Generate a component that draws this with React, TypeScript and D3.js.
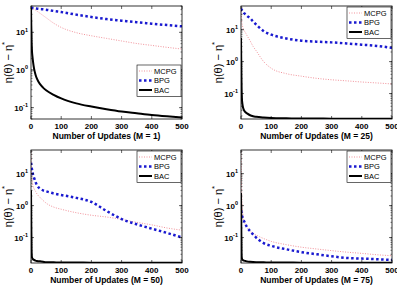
import * as d3 from "d3";

const steps = [0, 1, 2, 3, 5, 7, 10, 15, 20, 30, 40, 50, 75, 100, 150, 200, 250, 300, 350, 400, 450, 500];

// M = 1
const m1MCPG = [45, 44.6, 44.2, 43.8, 43, 42.2, 41, 38.8, 36.5, 32, 28, 24.5, 17.5, 13.5, 9.8, 8.1, 6.9, 5.9, 5.05, 4.5, 4.0, 3.6];
const m1BPG = [45, 45, 45, 45, 44.5, 44.5, 44, 43, 42.5, 41.5, 41, 40, 37, 34.5, 29.5, 25.5, 22.5, 20.4, 18.5, 17, 15.6, 14.4];
const m1BAC = [45, 15, 6, 3.5, 2.2, 1.6, 1.1, 0.75, 0.58, 0.42, 0.34, 0.29, 0.22, 0.176, 0.13, 0.107, 0.091, 0.079, 0.071, 0.064, 0.059, 0.055];

// M = 25
const m25MCPG = [46, 30, 20, 16, 13, 11, 9.5, 8, 6.5, 4.5, 3.0, 2.2, 1.0, 0.62, 0.42, 0.35, 0.3, 0.27, 0.25, 0.23, 0.215, 0.2];
const m25BPG = [46, 44, 42, 41, 39, 37, 33, 30, 27, 23, 18, 14.5, 9, 7, 5.3, 4.5, 4.2, 4.0, 3.7, 3.4, 3.1, 2.7];
const m25BAC = [5.5, 0.8, 0.15, 0.07, 0.045, 0.036, 0.03, 0.026, 0.024, 0.021, 0.0195, 0.0188, 0.0178, 0.0172, 0.0168, 0.0166, 0.0165, 0.0164, 0.0164, 0.0163, 0.0163, 0.0163];

// M = 50
const m50MCPG = [50, 20, 10, 7, 5, 4, 3.4, 2.8, 2.3, 1.8, 1.45, 1.2, 0.9, 0.77, 0.6, 0.5, 0.44, 0.37, 0.3, 0.25, 0.2, 0.17];
const m50BPG = [22, 19, 16, 14, 11, 9, 7.5, 5.5, 4.3, 3.4, 3.0, 2.8, 2.4, 2.15, 1.75, 1.3, 0.68, 0.38, 0.26, 0.19, 0.14, 0.1];
const m50BAC = [3, 0.3, 0.04, 0.025, 0.022, 0.021, 0.02, 0.019, 0.0185, 0.018, 0.0175, 0.017, 0.0168, 0.0166, 0.0165, 0.0164, 0.0164, 0.0163, 0.0163, 0.0163, 0.0163, 0.0163];

// M = 75
const m75MCPG = [50, 15, 4, 1.5, 0.7, 0.45, 0.33, 0.25, 0.21, 0.16, 0.135, 0.12, 0.093, 0.076, 0.06, 0.05, 0.044, 0.039, 0.035, 0.032, 0.029, 0.027];
const m75BPG = [0.7, 0.65, 0.55, 0.5, 0.43, 0.38, 0.33, 0.26, 0.21, 0.16, 0.125, 0.1, 0.067, 0.055, 0.043, 0.035, 0.03, 0.026, 0.023, 0.022, 0.021, 0.02];
const m75BAC = [2.5, 0.2, 0.03, 0.022, 0.02, 0.0195, 0.019, 0.0185, 0.018, 0.0175, 0.0172, 0.017, 0.0168, 0.0166, 0.0165, 0.0164, 0.0164, 0.0163, 0.0163, 0.0163, 0.0163, 0.0163];

const xTicks = [0, 100, 200, 300, 400, 500];
const yExponents = [-1, 0, 1];
const legendNames = ["MCPG", "BPG", "BAC"];
const mValues = [1, 25, 50, 75];

const font = "'Liberation Sans', Arial, Helvetica, sans-serif";
const W = 151;
const H = 113;

const styles = [
  { stroke: "#f2939b", width: 1, dash: "1 1.5" },
  { stroke: "#1a1ad0", width: 2.5, dash: "2.5 2.5" },
  { stroke: "#000", width: 2, dash: null },
];

const panels = [
  { left: 31, top: 6, m: mValues[0], series: [m1MCPG, m1BPG, m1BAC], domain: [0.05, 50], legendY: 59 },
  { left: 241, top: 6, m: mValues[1], series: [m25MCPG, m25BPG, m25BAC], domain: [0.016, 55], legendY: 1 },
  { left: 31, top: 150, m: mValues[2], series: [m50MCPG, m50BPG, m50BAC], domain: [0.016, 55], legendY: 1 },
  { left: 241, top: 150, m: mValues[3], series: [m75MCPG, m75BPG, m75BAC], domain: [0.016, 55], legendY: 1 },
];

function Panel({ p, idx }) {
  const x = d3.scaleLinear().domain([0, 500]).range([0, W]);
  const y = d3.scaleLog().domain(p.domain).range([H, 0]);
  const line = d3
    .line<number>()
    .x((_, i) => x(steps[i]))
    .y((d) => y(d))
    .curve(d3.curveMonotoneX);

  const [lo, hi] = p.domain;
  const minor: number[] = [];
  for (let e = Math.floor(Math.log10(lo)); e <= Math.ceil(Math.log10(hi)); e++) {
    for (let k = 1; k <= 9; k++) {
      const v = k * Math.pow(10, e);
      if (v >= lo && v <= hi) minor.push(v);
    }
  }
  const clipId = `clip-${idx}`;
  const lx = W - 45;
  const ly = p.legendY;

  return (
    <g transform={`translate(${p.left},${p.top})`} fontFamily={font}>
      <defs>
        <clipPath id={clipId}>
          <rect x={0} y={0} width={W} height={H} />
        </clipPath>
      </defs>
      <rect x={0} y={0} width={W} height={H} fill="#fff" />
      <g clipPath={`url(#${clipId})`}>
        {p.series.map((s, i) => (
          <path
            key={i}
            d={line(s) ?? ""}
            fill="none"
            stroke={styles[i].stroke}
            strokeWidth={styles[i].width}
            strokeDasharray={styles[i].dash ?? undefined}
          />
        ))}
      </g>
      {/* minor ticks */}
      {minor.map((v) => (
        <g key={`m-${v}`}>
          <line x1={0} x2={1.5} y1={y(v)} y2={y(v)} stroke="#000" strokeWidth={0.5} />
          <line x1={W} x2={W - 1.5} y1={y(v)} y2={y(v)} stroke="#000" strokeWidth={0.5} />
        </g>
      ))}
      {yExponents.map((e) => {
        const yy = y(Math.pow(10, e));
        return (
          <g key={`y-${e}`}>
            <line x1={0} x2={3} y1={yy} y2={yy} stroke="#000" strokeWidth={0.6} />
            <line x1={W} x2={W - 3} y1={yy} y2={yy} stroke="#000" strokeWidth={0.6} />
            <text x={-3} y={yy + 3} textAnchor="end" fontSize={8} fontWeight="bold">
              10
              <tspan dy={-3.5} fontSize={5.5}>{e}</tspan>
            </text>
          </g>
        );
      })}
      {xTicks.map((t) => (
        <g key={`x-${t}`}>
          <line x1={x(t)} x2={x(t)} y1={H} y2={H - 3} stroke="#000" strokeWidth={0.6} />
          <line x1={x(t)} x2={x(t)} y1={0} y2={3} stroke="#000" strokeWidth={0.6} />
          <text x={x(t)} y={H + 9.5} textAnchor="middle" fontSize={8} fontWeight="bold">
            {t}
          </text>
        </g>
      ))}
      <rect x={0} y={0} width={W} height={H} fill="none" stroke="#000" strokeWidth={0.8} />
      <text x={W / 2} y={H + 19.5} textAnchor="middle" fontSize={8.5} fontWeight="bold">
        {`Number of Updates (M = ${p.m})`}
      </text>
      <text transform={`translate(-19,${H / 2}) rotate(-90)`} textAnchor="middle" fontSize={11}>
        η(θ) − η
        <tspan dy={-5} fontSize={8}>*</tspan>
      </text>
      <g transform={`translate(${lx},${ly})`}>
        <rect x={0} y={0} width={44} height={31.5} fill="#fff" stroke="#000" strokeWidth={0.6} />
        {legendNames.map((n, i) => (
          <g key={n} transform={`translate(0,${6 + i * 9.5})`}>
            <line
              x1={2}
              x2={15}
              y1={0}
              y2={0}
              stroke={styles[i].stroke}
              strokeWidth={styles[i].width}
              strokeDasharray={styles[i].dash ?? undefined}
            />
            <text x={17} y={2.7} fontSize={7.5}>
              {n}
            </text>
          </g>
        ))}
      </g>
    </g>
  );
}

export default function App() {
  return (
    <svg
      width={397}
      height={287}
      style={{ position: "absolute", left: 0, top: 0, display: "block", background: "#fff" }}
    >
      {panels.map((p, i) => (
        <Panel key={i} p={p} idx={i} />
      ))}
    </svg>
  );
}
